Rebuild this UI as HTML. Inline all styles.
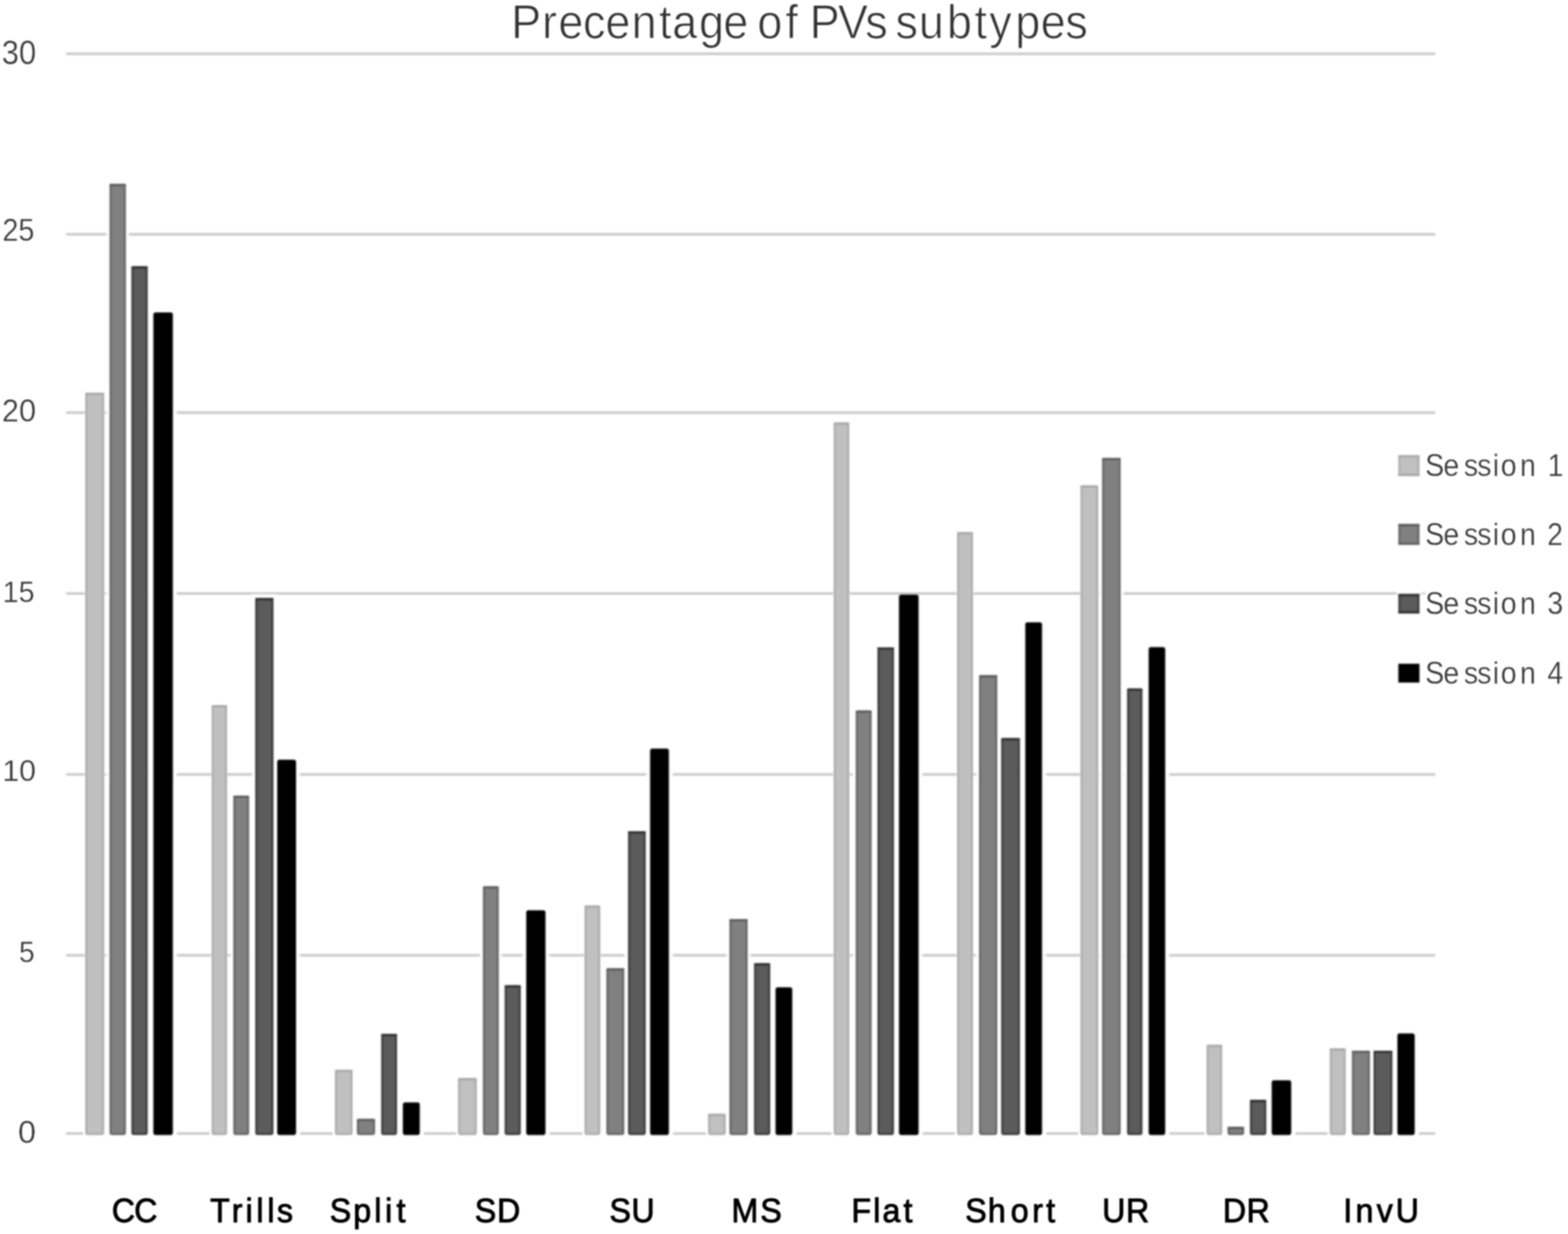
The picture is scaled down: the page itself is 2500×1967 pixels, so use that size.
<!DOCTYPE html>
<html lang="en">
<head>
<meta charset="utf-8">
<title>Precentage of PVs subtypes</title>
<style>
html,body{margin:0;padding:0;background:#fff;}
body{width:2500px;height:1967px;}
svg{display:block;}
text{font-family:'Liberation Sans', 'DejaVu Sans', sans-serif;white-space:pre;}
</style>
</head>
<body>
<svg width="2500" height="1967" viewBox="0 0 2500 1967">
<defs><filter id="soft" x="-2%" y="-2%" width="104%" height="104%" color-interpolation-filters="sRGB"><feGaussianBlur stdDeviation="1.4"/></filter><filter id="softt" x="-2%" y="-2%" width="104%" height="104%" color-interpolation-filters="sRGB"><feGaussianBlur stdDeviation="0.9"/></filter></defs>
<rect width="2500" height="1967" fill="#ffffff"/>
<g filter="url(#soft)">
<g stroke="#c8c8c8" stroke-width="4">
<line x1="105.5" y1="85.8" x2="2288.5" y2="85.8"/>
<line x1="105.5" y1="373.5" x2="2288.5" y2="373.5"/>
<line x1="105.5" y1="657.8" x2="2288.5" y2="657.8"/>
<line x1="105.5" y1="946" x2="2224" y2="946"/>
<line x1="105.5" y1="1234.5" x2="2288.5" y2="1234.5"/>
<line x1="105.5" y1="1522.8" x2="2288.5" y2="1522.8"/>
<line x1="105.5" y1="1806.8" x2="2288.5" y2="1806.8"/>
</g>
<g fill="#ffffff">
<rect x="135" y="625" width="32" height="1187.2" opacity="0.7"/>
<rect x="135.45" y="625.45" width="31.1" height="1186.3"/>
<rect x="169.2" y="287.5" width="37" height="1529.2" opacity="0.7"/>
<rect x="171.67" y="289.98" width="32.05" height="1524.25"/>
<rect x="203" y="418" width="39" height="1399.7" opacity="0.7"/>
<rect x="205.93" y="420.93" width="33.15" height="1393.85"/>
<rect x="237.5" y="491" width="45.1" height="1327.2" opacity="0.7"/>
<rect x="240.65" y="494.15" width="38.8" height="1320.9"/>
<rect x="336.5" y="1123" width="26.5" height="689.2" opacity="0.7"/>
<rect x="336.95" y="1123.45" width="25.6" height="688.3"/>
<rect x="366.5" y="1262.9" width="36.2" height="553.8" opacity="0.7"/>
<rect x="368.98" y="1265.38" width="31.25" height="548.85"/>
<rect x="400.5" y="946.8" width="42" height="870.9" opacity="0.7"/>
<rect x="403.43" y="949.72" width="36.15" height="865.05"/>
<rect x="435" y="1204" width="44" height="614.2" opacity="0.7"/>
<rect x="438.15" y="1207.15" width="37.7" height="607.9"/>
<rect x="533" y="1704.5" width="30" height="107.7" opacity="0.7"/>
<rect x="533.45" y="1704.95" width="29.1" height="106.8"/>
<rect x="563.5" y="1778.1" width="40" height="38.6" opacity="0.7"/>
<rect x="565.98" y="1780.57" width="35.05" height="33.65"/>
<rect x="601.3" y="1641.5" width="38.2" height="176.2" opacity="0.7"/>
<rect x="604.22" y="1644.42" width="32.35" height="170.35"/>
<rect x="635.3" y="1750.3" width="41" height="67.9" opacity="0.7"/>
<rect x="638.45" y="1753.45" width="34.7" height="61.6"/>
<rect x="729.3" y="1717.6" width="31.9" height="94.6" opacity="0.7"/>
<rect x="729.75" y="1718.05" width="31" height="93.7"/>
<rect x="764.5" y="1407.3" width="36.2" height="409.4" opacity="0.7"/>
<rect x="766.98" y="1409.77" width="31.25" height="404.45"/>
<rect x="798.1" y="1564.1" width="38.7" height="253.6" opacity="0.7"/>
<rect x="801.02" y="1567.02" width="32.85" height="247.75"/>
<rect x="832" y="1444" width="44.7" height="374.2" opacity="0.7"/>
<rect x="835.15" y="1447.15" width="38.4" height="367.9"/>
<rect x="931" y="1442.5" width="27" height="369.7" opacity="0.7"/>
<rect x="931.45" y="1442.95" width="26.1" height="368.8"/>
<rect x="961.3" y="1538" width="39.5" height="278.7" opacity="0.7"/>
<rect x="963.77" y="1540.47" width="34.55" height="273.75"/>
<rect x="994.9" y="1318.5" width="41.1" height="499.2" opacity="0.7"/>
<rect x="997.82" y="1321.42" width="35.25" height="493.35"/>
<rect x="1029.5" y="1186.2" width="44" height="632" opacity="0.7"/>
<rect x="1032.65" y="1189.35" width="37.7" height="625.7"/>
<rect x="1128" y="1774.5" width="30" height="37.7" opacity="0.7"/>
<rect x="1128.45" y="1774.95" width="29.1" height="36.8"/>
<rect x="1157.5" y="1459.5" width="40" height="357.2" opacity="0.7"/>
<rect x="1159.97" y="1461.97" width="35.05" height="352.25"/>
<rect x="1195.8" y="1528.9" width="38.7" height="288.8" opacity="0.7"/>
<rect x="1198.72" y="1531.83" width="32.85" height="282.95"/>
<rect x="1229.5" y="1566.8" width="40.7" height="251.4" opacity="0.7"/>
<rect x="1232.65" y="1569.95" width="34.4" height="245.1"/>
<rect x="1328.3" y="672.5" width="26.7" height="1139.7" opacity="0.7"/>
<rect x="1328.75" y="672.95" width="25.8" height="1138.8"/>
<rect x="1358.9" y="1127.1" width="36.3" height="689.6" opacity="0.7"/>
<rect x="1361.38" y="1129.57" width="31.35" height="684.65"/>
<rect x="1392.5" y="1025.4" width="39.3" height="792.3" opacity="0.7"/>
<rect x="1395.42" y="1028.33" width="33.45" height="786.45"/>
<rect x="1426.3" y="949" width="45.3" height="869.2" opacity="0.7"/>
<rect x="1429.45" y="949" width="39" height="866.05"/>
<rect x="1525" y="847.2" width="27.3" height="965" opacity="0.7"/>
<rect x="1525.45" y="847.65" width="26.4" height="964.1"/>
<rect x="1555.5" y="1070.8" width="40" height="745.9" opacity="0.7"/>
<rect x="1557.97" y="1073.27" width="35.05" height="740.95"/>
<rect x="1589.8" y="1170.1" width="42.9" height="647.6" opacity="0.7"/>
<rect x="1592.72" y="1173.02" width="37.05" height="641.75"/>
<rect x="1627.7" y="985" width="40.7" height="833.2" opacity="0.7"/>
<rect x="1630.85" y="988.15" width="34.4" height="826.9"/>
<rect x="1721.7" y="772.8" width="30.3" height="1039.4" opacity="0.7"/>
<rect x="1722.15" y="773.25" width="29.4" height="1038.5"/>
<rect x="1751.7" y="724.4" width="40.5" height="1092.3" opacity="0.7"/>
<rect x="1754.17" y="726.88" width="35.55" height="1087.35"/>
<rect x="1790.5" y="1091" width="37.5" height="726.7" opacity="0.7"/>
<rect x="1793.42" y="1093.92" width="31.65" height="720.85"/>
<rect x="1824.4" y="1024.4" width="40.4" height="793.8" opacity="0.7"/>
<rect x="1827.55" y="1027.55" width="34.1" height="787.5"/>
<rect x="1922.8" y="1664.6" width="26.8" height="147.6" opacity="0.7"/>
<rect x="1923.25" y="1665.05" width="25.9" height="146.7"/>
<rect x="1951.7" y="1790.7" width="37.4" height="26" opacity="0.7"/>
<rect x="1954.17" y="1793.17" width="32.45" height="21.05"/>
<rect x="1986.4" y="1746.7" width="39" height="71" opacity="0.7"/>
<rect x="1989.33" y="1749.62" width="33.15" height="65.15"/>
<rect x="2020.6" y="1715" width="45.1" height="103.2" opacity="0.7"/>
<rect x="2023.75" y="1718.15" width="38.8" height="96.9"/>
<rect x="2119.2" y="1670" width="27.4" height="142.2" opacity="0.7"/>
<rect x="2119.65" y="1670.45" width="26.5" height="141.3"/>
<rect x="2150" y="1669.4" width="39.7" height="147.3" opacity="0.7"/>
<rect x="2152.47" y="1671.88" width="34.75" height="142.35"/>
<rect x="2183.5" y="1668.4" width="43" height="149.3" opacity="0.7"/>
<rect x="2186.43" y="1671.33" width="37.15" height="143.45"/>
<rect x="2221" y="1640.2" width="41.6" height="178" opacity="0.7"/>
<rect x="2224.15" y="1643.35" width="35.3" height="171.7"/>
<rect x="132.5" y="1802.8" width="149.1" height="8"/>
<rect x="334" y="1802.8" width="144" height="8"/>
<rect x="530.5" y="1802.8" width="144.8" height="8"/>
<rect x="726.8" y="1802.8" width="148.9" height="8"/>
<rect x="928.5" y="1802.8" width="144" height="8"/>
<rect x="1125.5" y="1802.8" width="143.7" height="8"/>
<rect x="1325.8" y="1802.8" width="144.8" height="8"/>
<rect x="1522.5" y="1802.8" width="144.9" height="8"/>
<rect x="1719.2" y="1802.8" width="144.6" height="8"/>
<rect x="1920.3" y="1802.8" width="144.4" height="8"/>
<rect x="2116.7" y="1802.8" width="144.9" height="8"/>
<rect x="2228.5" y="724.7" width="35.7" height="35"/>
<rect x="2224" y="829.8" width="44.7" height="44"/>
<rect x="2223" y="940.3" width="46.7" height="44"/>
<rect x="2222.5" y="1051" width="47.7" height="44"/>
</g>
<line x1="2218" y1="946" x2="2227" y2="946" stroke="#c8c8c8" stroke-width="4"/>
<line x1="2265" y1="946" x2="2274" y2="946" stroke="#c8c8c8" stroke-width="4" opacity="0.6"/>
<g fill="#c0c0c0" stroke="#ababab" stroke-width="3.2">
<rect x="137.6" y="627.6" width="26.8" height="1180" rx="2"/>
<rect x="339.1" y="1125.6" width="21.3" height="682" rx="2"/>
<rect x="535.6" y="1707.1" width="24.8" height="100.5" rx="2"/>
<rect x="731.9" y="1720.2" width="26.7" height="87.4" rx="2"/>
<rect x="933.6" y="1445.1" width="21.8" height="362.5" rx="2"/>
<rect x="1130.6" y="1777.1" width="24.8" height="30.5" rx="2"/>
<rect x="1330.9" y="675.1" width="21.5" height="1132.5" rx="2"/>
<rect x="1527.6" y="849.8" width="22.1" height="957.8" rx="2"/>
<rect x="1724.3" y="775.4" width="25.1" height="1032.2" rx="2"/>
<rect x="1925.4" y="1667.2" width="21.6" height="140.4" rx="2"/>
<rect x="2121.8" y="1672.6" width="22.2" height="135" rx="2"/>
<rect x="2231.1" y="727.3" width="30.5" height="29.8"/>
</g>
<g stroke="#a6a6a6" stroke-width="3.4">
<line x1="136" y1="627.7" x2="166" y2="627.7"/>
<line x1="337.5" y1="1125.7" x2="362" y2="1125.7"/>
<line x1="534" y1="1707.2" x2="562" y2="1707.2"/>
<line x1="730.3" y1="1720.3" x2="760.2" y2="1720.3"/>
<line x1="932" y1="1445.2" x2="957" y2="1445.2"/>
<line x1="1129" y1="1777.2" x2="1157" y2="1777.2"/>
<line x1="1329.3" y1="675.2" x2="1354" y2="675.2"/>
<line x1="1526" y1="849.9" x2="1551.3" y2="849.9"/>
<line x1="1722.7" y1="775.5" x2="1751" y2="775.5"/>
<line x1="1923.8" y1="1667.3" x2="1948.6" y2="1667.3"/>
<line x1="2120.2" y1="1672.7" x2="2145.6" y2="1672.7"/>
<line x1="2229.5" y1="727.4" x2="2263.2" y2="727.4"/>
<line x1="2229.5" y1="757" x2="2263.2" y2="757"/>
</g>
<g fill="#808080" stroke="#646464" stroke-width="3.2">
<rect x="176.3" y="294.6" width="22.8" height="1513" rx="2"/>
<rect x="373.6" y="1270" width="22" height="537.6" rx="2"/>
<rect x="570.6" y="1785.2" width="25.8" height="22.4" rx="2"/>
<rect x="771.6" y="1414.4" width="22" height="393.2" rx="2"/>
<rect x="968.4" y="1545.1" width="25.3" height="262.5" rx="2"/>
<rect x="1164.6" y="1466.6" width="25.8" height="341" rx="2"/>
<rect x="1366" y="1134.2" width="22.1" height="673.4" rx="2"/>
<rect x="1562.6" y="1077.9" width="25.8" height="729.7" rx="2"/>
<rect x="1758.8" y="731.5" width="26.3" height="1076.1" rx="2"/>
<rect x="1958.8" y="1797.8" width="23.2" height="9.8" rx="2"/>
<rect x="2157.1" y="1676.5" width="25.5" height="131.1" rx="2"/>
<rect x="2231.1" y="836.9" width="30.5" height="29.8"/>
</g>
<g stroke="#5a5a5a" stroke-width="3.4">
<line x1="174.7" y1="294.7" x2="200.7" y2="294.7"/>
<line x1="372" y1="1270.1" x2="397.2" y2="1270.1"/>
<line x1="569" y1="1785.3" x2="598" y2="1785.3"/>
<line x1="770" y1="1414.5" x2="795.2" y2="1414.5"/>
<line x1="966.8" y1="1545.2" x2="995.3" y2="1545.2"/>
<line x1="1163" y1="1466.7" x2="1192" y2="1466.7"/>
<line x1="1364.4" y1="1134.3" x2="1389.7" y2="1134.3"/>
<line x1="1561" y1="1078" x2="1590" y2="1078"/>
<line x1="1757.2" y1="731.6" x2="1786.7" y2="731.6"/>
<line x1="1957.2" y1="1797.9" x2="1983.6" y2="1797.9"/>
<line x1="2155.5" y1="1676.6" x2="2184.2" y2="1676.6"/>
<line x1="2229.5" y1="837" x2="2263.2" y2="837"/>
<line x1="2229.5" y1="866.6" x2="2263.2" y2="866.6"/>
</g>
<g fill="#5b5b5b" stroke="#3a3a3a" stroke-width="3.2">
<rect x="211.1" y="426.1" width="22.8" height="1381.5" rx="2"/>
<rect x="408.6" y="954.9" width="25.8" height="852.7" rx="2"/>
<rect x="609.4" y="1649.6" width="22" height="158" rx="2"/>
<rect x="806.2" y="1572.2" width="22.5" height="235.4" rx="2"/>
<rect x="1003" y="1326.6" width="24.9" height="481" rx="2"/>
<rect x="1203.9" y="1537" width="22.5" height="270.6" rx="2"/>
<rect x="1400.6" y="1033.5" width="23.1" height="774.1" rx="2"/>
<rect x="1597.9" y="1178.2" width="26.7" height="629.4" rx="2"/>
<rect x="1798.6" y="1099.1" width="21.3" height="708.5" rx="2"/>
<rect x="1994.5" y="1754.8" width="22.8" height="52.8" rx="2"/>
<rect x="2191.6" y="1676.5" width="26.8" height="131.1" rx="2"/>
<rect x="2231.1" y="948.4" width="30.5" height="27.8"/>
</g>
<g stroke="#2c2c2c" stroke-width="3.4">
<line x1="209.5" y1="426.2" x2="235.5" y2="426.2"/>
<line x1="407" y1="955" x2="436" y2="955"/>
<line x1="607.8" y1="1649.7" x2="633" y2="1649.7"/>
<line x1="804.6" y1="1572.3" x2="830.3" y2="1572.3"/>
<line x1="1001.4" y1="1326.7" x2="1029.5" y2="1326.7"/>
<line x1="1202.3" y1="1537.1" x2="1228" y2="1537.1"/>
<line x1="1399" y1="1033.6" x2="1425.3" y2="1033.6"/>
<line x1="1596.3" y1="1178.3" x2="1626.2" y2="1178.3"/>
<line x1="1797" y1="1099.2" x2="1821.5" y2="1099.2"/>
<line x1="1992.9" y1="1754.9" x2="2018.9" y2="1754.9"/>
<line x1="2190" y1="1676.6" x2="2220" y2="1676.6"/>
<line x1="2229.5" y1="948.5" x2="2263.2" y2="948.5"/>
<line x1="2229.5" y1="976.1" x2="2263.2" y2="976.1"/>
</g>
<g fill="#000000" stroke="#000000" stroke-width="3.2">
<rect x="246.1" y="499.6" width="27.9" height="1308" rx="2"/>
<rect x="443.6" y="1212.6" width="26.8" height="595" rx="2"/>
<rect x="643.9" y="1758.9" width="23.8" height="48.7" rx="2"/>
<rect x="840.6" y="1452.6" width="27.5" height="355" rx="2"/>
<rect x="1038.1" y="1194.8" width="26.8" height="612.8" rx="2"/>
<rect x="1238.1" y="1575.4" width="23.5" height="232.2" rx="2"/>
<rect x="1434.9" y="949.6" width="28.1" height="858" rx="2"/>
<rect x="1636.3" y="993.6" width="23.5" height="814" rx="2"/>
<rect x="1833" y="1033" width="23.2" height="774.6" rx="2"/>
<rect x="2029.2" y="1723.6" width="27.9" height="84" rx="2"/>
<rect x="2229.6" y="1648.8" width="24.4" height="158.8" rx="2"/>
<rect x="2231.1" y="1059.6" width="30.5" height="26.8"/>
</g>
</g>
<g filter="url(#softt)">
<text transform="translate(0 60.7) scale(0.9500 1)" x="857.99 909.66 937.05 978.34 1016.11 1060.06 1106.08 1128.24 1173.12 1213.95 1255.95 1271.05 1318.06 1339.04 1358.99 1406.22 1452.24 1489.99 1502.87 1542.15 1589.11 1635.66 1660.35 1703.94 1746.63 1787.87" font-size="75.5" fill="#333333" stroke="#ffffff" stroke-width="1.2">Precentage of PVs subtypes</text>
<text y="101.52" font-size="53.2" fill="#3a3a3a" stroke="#ffffff" stroke-width="0.4"><tspan x="2.85" textLength="54.76" lengthAdjust="spacingAndGlyphs">30</tspan></text>
<text y="384.26" font-size="49.4" fill="#3a3a3a" stroke="#ffffff" stroke-width="0.4"><tspan x="3.63" textLength="51.27" lengthAdjust="spacingAndGlyphs">25</tspan></text>
<text y="672.25" font-size="49.6" fill="#3a3a3a" stroke="#ffffff" stroke-width="0.4"><tspan x="3.03" textLength="54.4" lengthAdjust="spacingAndGlyphs">20</tspan></text>
<text y="960.37" font-size="48.2" fill="#3a3a3a" stroke="#ffffff" stroke-width="0.4"><tspan x="4.32" textLength="50.79" lengthAdjust="spacingAndGlyphs">15</tspan></text>
<text y="1244.76" font-size="48.9" fill="#3a3a3a" stroke="#ffffff" stroke-width="0.4"><tspan x="3.74" textLength="53.52" lengthAdjust="spacingAndGlyphs">10</tspan></text>
<text y="1533.86" font-size="48.9" fill="#3a3a3a" stroke="#ffffff" stroke-width="0.4"><tspan x="30.36" textLength="25.08" lengthAdjust="spacingAndGlyphs">5</tspan></text>
<text y="1822.25" font-size="50.1" fill="#3a3a3a" stroke="#ffffff" stroke-width="0.4"><tspan x="28.78" textLength="28.53" lengthAdjust="spacingAndGlyphs">0</tspan></text>
<text transform="translate(0 1947.9) scale(0.9500 1)" x="187.66 225.18" font-size="54" fill="#000000" stroke="#000000" stroke-width="1.4">CC</text>
<text transform="translate(0 1947.9) scale(0.9500 1)" x="352.66 388.91 412.07 430.35 448.67 464.84" font-size="54" fill="#000000" stroke="#000000" stroke-width="1.4">Trills</text>
<text transform="translate(0 1947.9) scale(0.9500 1)" x="553.32 592.97 628.04 646.38 665.41" font-size="54" fill="#000000" stroke="#000000" stroke-width="1.4">Split</text>
<text transform="translate(0 1947.9) scale(0.9500 1)" x="796.85 834.24" font-size="54" fill="#000000" stroke="#000000" stroke-width="1.4">SD</text>
<text transform="translate(0 1947.9) scale(0.9500 1)" x="1022.95 1059.71" font-size="54" fill="#000000" stroke="#000000" stroke-width="1.4">SU</text>
<text transform="translate(0 1947.9) scale(0.9500 1)" x="1227.71 1275.95" font-size="54" fill="#000000" stroke="#000000" stroke-width="1.4">MS</text>
<text transform="translate(0 1947.9) scale(0.9500 1)" x="1429.03 1465.41 1481.19 1516.36" font-size="54" fill="#000000" stroke="#000000" stroke-width="1.4">Flat</text>
<text transform="translate(0 1947.9) scale(0.9500 1)" x="1620.11 1657.94 1696.32 1732.38 1755.73" font-size="54" fill="#000000" stroke="#000000" stroke-width="1.4">Short</text>
<text transform="translate(0 1947.9) scale(0.9500 1)" x="1849.76 1889.76" font-size="54" fill="#000000" stroke="#000000" stroke-width="1.4">UR</text>
<text transform="translate(0 1947.9) scale(0.9500 1)" x="2052.4 2092.24" font-size="54" fill="#000000" stroke="#000000" stroke-width="1.4">DR</text>
<text transform="translate(0 1947.9) scale(0.9500 1)" x="2254.5 2275.05 2310.5 2342.45" font-size="54" fill="#000000" stroke="#000000" stroke-width="1.4">InvU</text>
<text transform="translate(0 759.3) scale(0.9200 1)" x="2469.87 2501.35 2537.03 2560.18 2587 2600.85 2634.23 2661.76 2681.98" font-size="49.5" fill="#3a3a3a" stroke="#ffffff" stroke-width="0.4">Session 1</text>
<text transform="translate(0 868.9) scale(0.9200 1)" x="2469.87 2501.35 2537.03 2560.18 2587 2600.85 2634.23 2661.76 2681.15" font-size="49.5" fill="#3a3a3a" stroke="#ffffff" stroke-width="0.4">Session 2</text>
<text transform="translate(0 978.6) scale(0.9200 1)" x="2469.87 2501.35 2537.03 2560.18 2587 2600.85 2634.23 2661.76 2681.46" font-size="49.5" fill="#3a3a3a" stroke="#ffffff" stroke-width="0.4">Session 3</text>
<text transform="translate(0 1090.2) scale(0.9200 1)" x="2469.87 2501.35 2537.03 2560.18 2587 2600.85 2634.23 2661.76 2681.57" font-size="49.5" fill="#3a3a3a" stroke="#ffffff" stroke-width="0.4">Session 4</text>
</g>
</svg>
</body>
</html>
